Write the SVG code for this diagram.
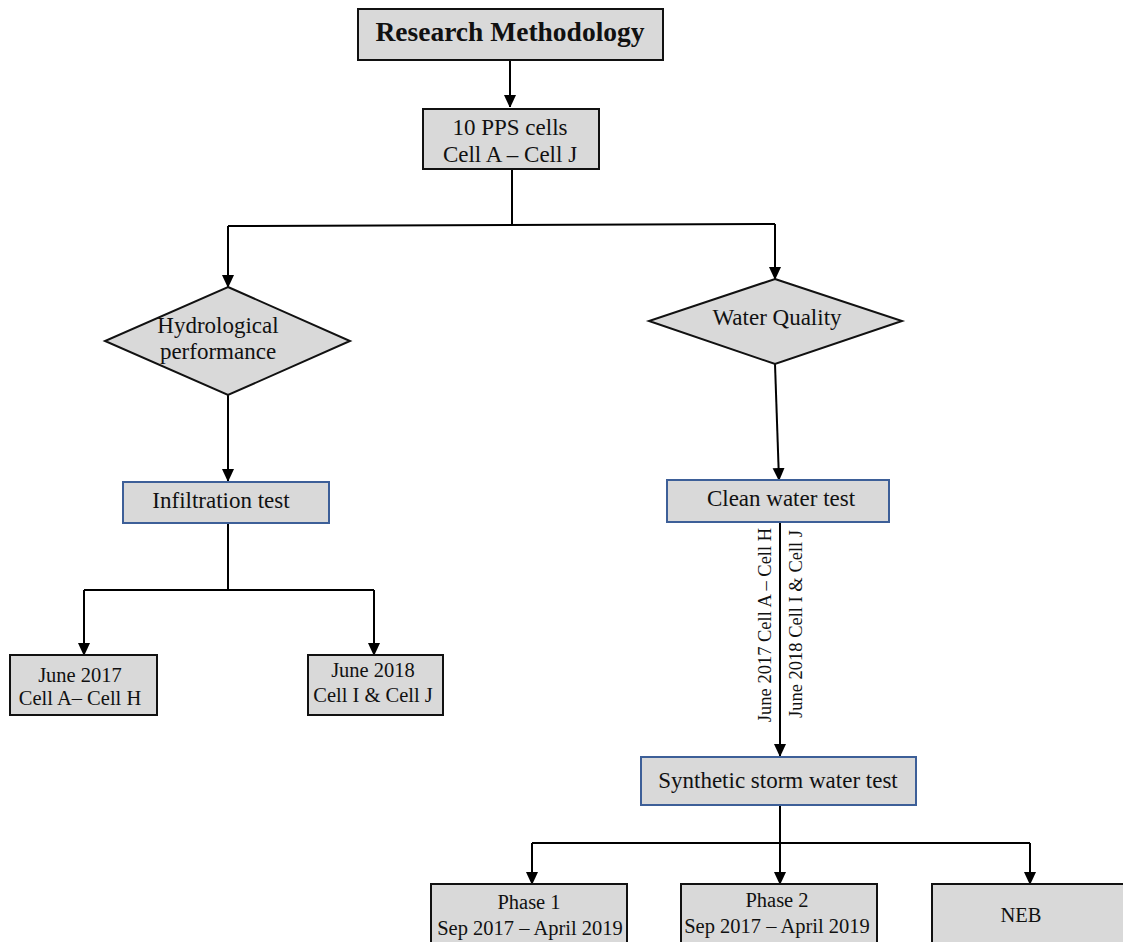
<svg xmlns="http://www.w3.org/2000/svg" width="1123" height="942" viewBox="0 0 1123 942">
<style>
.box{fill:#d9d9d9;stroke:#111;stroke-width:2}
.bbox{fill:#d9d9d9;stroke:#3d5f98;stroke-width:2}
.t{font-family:"Liberation Serif",serif;font-size:23px;fill:#111;text-anchor:middle}
.s{font-family:"Liberation Serif",serif;font-size:20.5px;fill:#111;text-anchor:middle}
.r{font-family:"Liberation Serif",serif;font-size:18.5px;fill:#111;text-anchor:middle}
.c{fill:none;stroke:#000;stroke-width:2}
</style>
<defs>
<marker id="ah" markerWidth="12" markerHeight="13" refX="12" refY="6" orient="auto" markerUnits="userSpaceOnUse">
<path d="M0,0 L13,6 L0,12 Z" fill="#000"/>
</marker>
</defs>
<rect width="1123" height="942" fill="#fff"/>
<g id="connectors">
<path class="c" d="M510,60 V107" marker-end="url(#ah)"/>
<path class="c" d="M512,169 V225"/>
<path class="c" d="M228,226 L775,224"/>
<path class="c" d="M228,226 V287" marker-end="url(#ah)"/>
<path class="c" d="M775,224 V279" marker-end="url(#ah)"/>
<path class="c" d="M228,395 V481" marker-end="url(#ah)"/>
<path class="c" d="M775,364 L779,480" marker-end="url(#ah)"/>
<path class="c" d="M228,523 V590"/>
<path class="c" d="M84,590 H374"/>
<path class="c" d="M84,590 V655" marker-end="url(#ah)"/>
<path class="c" d="M374,590 V655" marker-end="url(#ah)"/>
<path class="c" d="M780,522 V756" marker-end="url(#ah)"/>
<path class="c" d="M780,805 V884" marker-end="url(#ah)"/>
<path class="c" d="M532,843 H1030"/>
<path class="c" d="M532,843 V884" marker-end="url(#ah)"/>
<path class="c" d="M1030,843 V884" marker-end="url(#ah)"/>
<text class="r" transform="translate(771,625) rotate(-90)">June 2017 Cell A – Cell H</text>
<text class="r" transform="translate(802,624) rotate(-90)">June 2018 Cell I &amp; Cell J</text>
</g>
<g id="research-methodology">
<rect class="box" x="358" y="9" width="305" height="51"/>
<text class="t" x="510" y="41" style="font-weight:bold;font-size:27.5px">Research Methodology</text>
</g>
<g id="pps-cells">
<rect class="box" x="423" y="109" width="176" height="60"/>
<text class="t" x="510" y="135">10 PPS cells</text>
<text class="t" x="510" y="162">Cell A – Cell J</text>
</g>
<g id="hydrological">
<polygon class="box" points="228,287 350,341 228,395 105,341"/>
<text class="t" x="218" y="333">Hydrological</text>
<text class="t" x="218" y="359">performance</text>
</g>
<g id="water-quality">
<polygon class="box" points="775,279 902,321 775,364 649,321"/>
<text class="t" x="777" y="325">Water Quality</text>
</g>
<g id="infiltration">
<rect class="bbox" x="123" y="482" width="206" height="41"/>
<text class="t" x="221" y="508">Infiltration test</text>
</g>
<g id="june2017">
<rect class="box" x="10" y="655" width="147" height="60"/>
<text class="s" x="80" y="682">June 2017</text>
<text class="s" x="80" y="705">Cell A– Cell H</text>
</g>
<g id="june2018">
<rect class="box" x="308" y="655" width="135" height="60"/>
<text class="s" x="373" y="677">June 2018</text>
<text class="s" x="373" y="702">Cell I &amp; Cell J</text>
</g>
<g id="clean-water">
<rect class="bbox" x="667" y="480" width="222" height="42"/>
<text class="t" x="781" y="506">Clean water test</text>
</g>
<g id="synthetic">
<rect class="bbox" x="641" y="757" width="275" height="48"/>
<text class="t" x="778" y="788">Synthetic storm water test</text>
</g>
<g id="phase1">
<rect class="box" x="431" y="884" width="196" height="62"/>
<text class="s" x="529" y="909">Phase 1</text>
<text class="s" x="530" y="935">Sep 2017 – April 2019</text>
</g>
<g id="phase2">
<rect class="box" x="681" y="884" width="196" height="62"/>
<text class="s" x="777" y="907">Phase 2</text>
<text class="s" x="777" y="933">Sep 2017 – April 2019</text>
</g>
<g id="neb">
<rect class="box" x="932" y="884" width="195" height="62"/>
<text class="s" x="1021" y="922">NEB</text>
</g>
</svg>
